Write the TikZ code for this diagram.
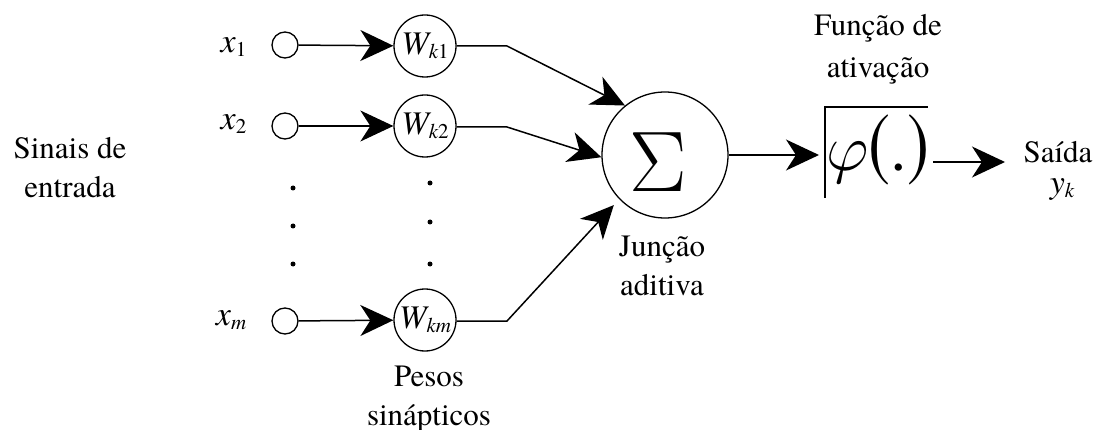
\RequirePackage{fix-cm}
\documentclass[tikz,border=0pt]{standalone}
\usepackage{fontspec}
\IfFontExistsTF{texgyretermes-regular.otf}
  {\setmainfont{texgyretermes}[Extension=.otf,UprightFont=*-regular,ItalicFont=*-italic,BoldFont=*-bold,BoldItalicFont=*-bolditalic]}
  {\setmainfont{Liberation Serif}}
\usepackage{graphicx}
\usetikzlibrary{arrows.meta}
\newcommand{\sbs}[1]{\raisebox{-4pt}{\fontsize{21}{21}\selectfont #1}}
\begin{document}
\begin{tikzpicture}[x=1pt,y=-1pt,
  line width=1.5pt,
  txt/.style={font=\fontsize{31}{39}\selectfont, inner sep=0pt, align=center},
  inp/.style={circle, draw, line width=1.3pt, minimum size=26pt, inner sep=0pt},
  wgt/.style={circle, draw, line width=1.3pt, minimum size=62pt, inner sep=0pt, font=\fontsize{33}{33}\selectfont\itshape},
  big/.style={-{Stealth[length=33pt,width=31pt,inset=10pt]}},
  dotc/.style={circle, fill, minimum size=5pt, inner sep=0pt},
  xl/.style={font=\fontsize{34}{34}\selectfont\itshape, inner sep=0pt, anchor=base east}
]
\useasboundingbox (0,0) rectangle (1102,430);

% left label
\node[txt, anchor=north] (sin) at (70,137) {Sinais de\\entrada};

% input labels
\node[xl] (lx1) at (247,53) {x\sbs{\upshape 1}};
\node[xl] (lx2) at (247,130) {x\sbs{\upshape 2}};
\node[xl] (lxm) at (247,325) {x\sbs{m}};

% input circles
\node[inp] (i1) at (285,45) {};
\node[inp] (i2) at (285,126) {};
\node[inp] (im) at (285,321) {};

% weights
\node[wgt] (w1) at (425,46) {W\sbs{k\upshape 1}};
\node[wgt] (w2) at (425,126) {W\sbs{k\upshape 2}};
\node[wgt] (wm) at (425,320) {W\sbs{km}};

% dots
\node[dotc] (d1) at (293,188) {};
\node[dotc] (d2) at (293,226) {};
\node[dotc] (d3) at (293,264) {};
\node[dotc] (e1) at (430,183) {};
\node[dotc] (e2) at (430,222) {};
\node[dotc] (e3) at (430,264) {};

% summing junction
\node[circle, draw, line width=1.3pt, minimum size=126pt, inner sep=0pt] (S) at (665,155) {};
\node[font=\fontsize{86}{86}\selectfont, inner sep=0pt] (sig) at (658,162) {$\Sigma$};

% arrows input -> weights
\draw[big] (i1) -- (w1);
\draw[big] (i2) -- (w2);
\draw[big] (im) -- (wm);

% weights -> sum
\coordinate (b1) at (507,46);
\coordinate (b2) at (507,127);
\coordinate (bm) at (507,321);
\draw[big] (w1.east) -- (b1) -- (S.129);
\draw[big] (w2.east |- b2) -- (b2) -- (S.182);
\draw[big, shorten >=8pt] (wm.east |- bm) -- (bm) -- (S.224);

% activation
\node[inner sep=0pt, font=\fontsize{66}{66}\selectfont] (phi) at (878,150)
  {$\varphi$\scalebox{1}[1.25]{(}.\scalebox{1}[1.25]{)}};
\coordinate (pb) at (825,198);
\coordinate (pt) at (825,107);
\coordinate (pr) at (928,107);
\draw (pb) -- (pt) -- (pr);
\coordinate (pin) at (819,155);
\draw[big] (S) -- (pin);
\node[txt, anchor=north, font=\fontsize{31}{42}\selectfont] (fa) at (878,14) {Função de\\ativação};

% output
\coordinate (po1) at (933,162);
\coordinate (po2) at (1005,162);
\draw[big] (po1) -- (po2);
\node[txt, anchor=base] (sai) at (1058,163) {Saída};
\node[xl, anchor=base] (yk) at (1062,194) {y\sbs{k}};

% bottom labels
\node[txt, anchor=north] (ja) at (662,235) {Junção\\aditiva};
\node[txt, anchor=north] (ps) at (429,365) {Pesos\\sinápticos};
\end{tikzpicture}
\end{document}
